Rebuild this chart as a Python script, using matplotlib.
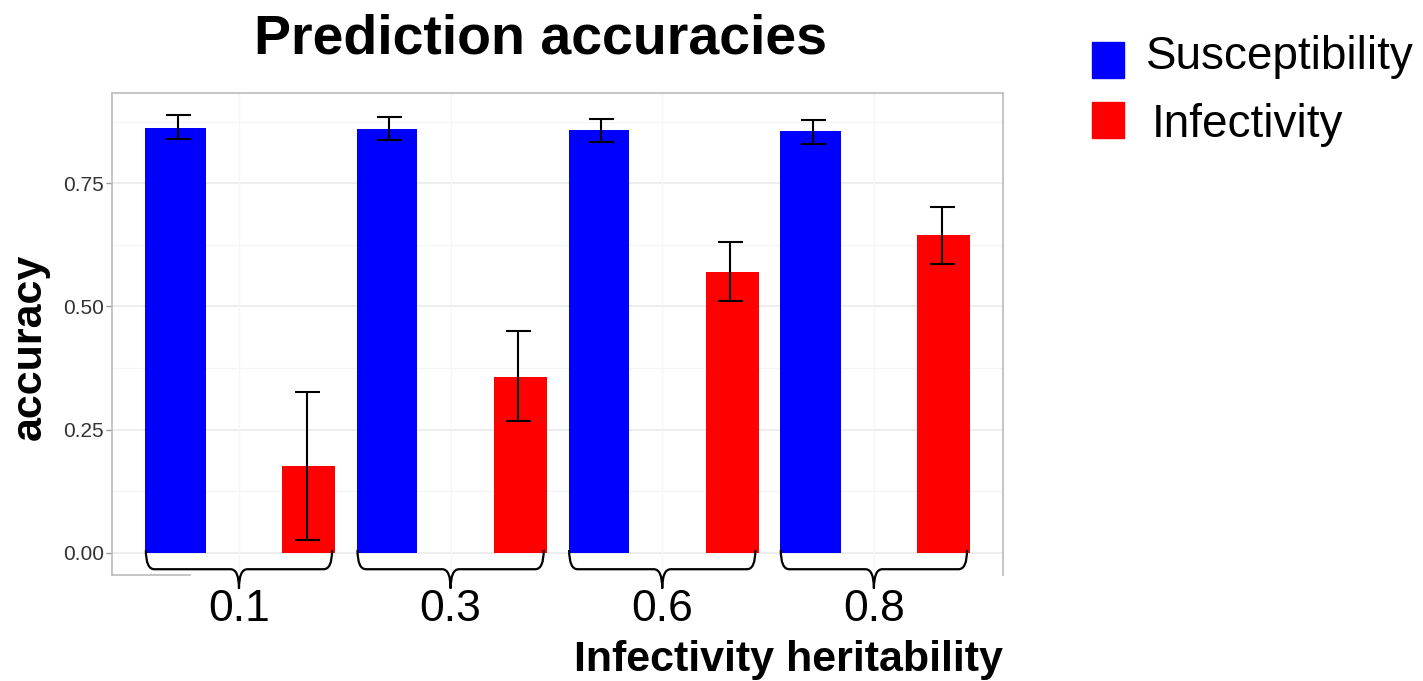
import matplotlib
matplotlib.use("Agg")
import matplotlib.pyplot as plt
from matplotlib.path import Path
from matplotlib.patches import PathPatch, Rectangle
from matplotlib.transforms import blended_transform_factory
import numpy as np

plt.rcParams['font.family'] = ['Liberation Sans', 'DejaVu Sans']

# ---- data ----
groups = ["0.1", "0.3", "0.6", "0.8"]
series_names = ["Susceptibility", "Infectivity"]
susc_mean = [0.861, 0.860, 0.857, 0.855]
susc_lo = [0.839, 0.837, 0.833, 0.829]
susc_hi = [0.888, 0.884, 0.880, 0.878]
inf_mean = [0.176, 0.357, 0.570, 0.645]
inf_lo = [0.026, 0.268, 0.511, 0.586]
inf_hi = [0.326, 0.450, 0.630, 0.701]
yticks = [0.00, 0.25, 0.50, 0.75]
colors = ["#0000ff", "#ff0000"]

W, H = 1423, 681
fig = plt.figure(figsize=(W / 100, H / 100), dpi=100)
ax = fig.add_axes([112 / W, 1 - 575 / H, (1003 - 112) / W, (575 - 93) / H])

x = np.arange(len(groups))
off_b, off_r = -0.30, 0.33
wb, wr = 0.285, 0.25

# grid
for yv in yticks:
    ax.axhline(yv, color="#ebebeb", lw=1.2, zorder=0)
for yv in [0.125, 0.375, 0.625, 0.875]:
    ax.axhline(yv, color="#f5f5f5", lw=0.9, zorder=0)
for xv in x:
    ax.axvline(xv, color="#f6f6f6", lw=1.0, zorder=0)

ax.bar(x + off_b, susc_mean, width=wb, color=colors[0], zorder=2)
ax.bar(x + off_r, inf_mean, width=wr, color=colors[1], zorder=2)

sm = np.array(susc_mean)
im = np.array(inf_mean)
ax.errorbar(x + off_b + 0.01, sm, yerr=[sm - np.array(susc_lo), np.array(susc_hi) - sm],
            fmt="none", ecolor="black", elinewidth=1.5, capsize=9, capthick=1.5, zorder=3)
ax.errorbar(x + off_r - 0.01, im, yerr=[im - np.array(inf_lo), np.array(inf_hi) - im],
            fmt="none", ecolor="black", elinewidth=1.5, capsize=9, capthick=1.5, zorder=3)

ax.set_xlim(-0.6, 3.61)
ax.set_ylim(-0.045, 0.933)
ax.set_yticks(yticks)
ax.set_yticklabels([f"{v:.2f}" for v in yticks], fontsize=15, color="#333333")
ax.tick_params(axis="y", length=4, width=1, color="#999999", pad=2)
ax.set_xticks(x)
ax.set_xticklabels(groups, fontsize=32, color="black")
ax.tick_params(axis="x", length=0, pad=10)
for sp in ax.spines.values():
    sp.set_color("#bbbbbb")
    sp.set_linewidth(1.2)
ax.spines["bottom"].set_bounds(-0.6, -0.23)

# braces
trans = blended_transform_factory(ax.transData, ax.transAxes)
y_top, y_mid, y_tip = 0.052, 0.012, -0.028
for xi in x:
    x0, x1, xc = xi - 0.44, xi + 0.44, xi
    d = 0.04
    verts = [(x0, y_top), (x0, y_mid), (x0 + d, y_mid),
             (xc - d, y_mid), (xc, y_mid), (xc, y_tip),
             (xc, y_tip), (xc, y_mid), (xc + d, y_mid),
             (x1 - d, y_mid), (x1, y_mid), (x1, y_top)]
    codes = [Path.MOVETO, Path.CURVE3, Path.CURVE3,
             Path.LINETO, Path.CURVE3, Path.CURVE3,
             Path.MOVETO, Path.CURVE3, Path.CURVE3,
             Path.LINETO, Path.CURVE3, Path.CURVE3]
    ax.add_patch(PathPatch(Path(verts, codes), fill=False, lw=1.6, ec="black",
                           transform=trans, clip_on=False, zorder=4))

# titles / labels
fig.text(541 / W, 1 - 40 / H, "Prediction accuracies", fontsize=40, fontweight="bold",
         ha="center", va="center")
fig.text(1003 / W, 1 - 660 / H, "Infectivity heritability", fontsize=31, fontweight="bold",
         ha="right", va="center")
fig.text(30 / W, 1 - 347 / H, "accuracy", fontsize=31, fontweight="bold",
         rotation=90, ha="center", va="center")

# legend
leg_items = [(series_names[0], colors[0], 42, 78, 1146, 57),
             (series_names[1], colors[1], 102, 138, 1152, 125)]
for name, c, t, b, tx, ty in leg_items:
    fig.add_artist(Rectangle((1092 / W, 1 - b / H), 32 / W, (b - t) / H,
                             transform=fig.transFigure, color=c))
    fig.text(tx / W, 1 - ty / H, name, fontsize=33, ha="left", va="center")

fig.savefig("out.png", dpi=100)
